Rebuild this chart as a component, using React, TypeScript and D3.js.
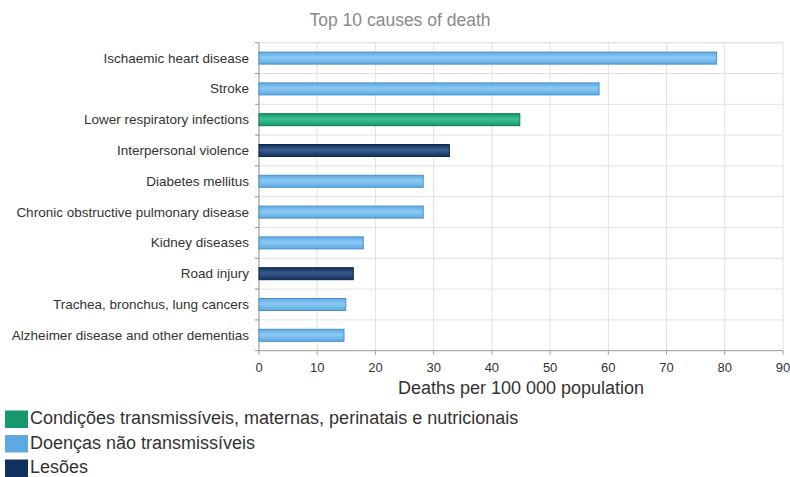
import * as d3 from "d3";

const causes = [
  "Ischaemic heart disease",
  "Stroke",
  "Lower respiratory infections",
  "Interpersonal violence",
  "Diabetes mellitus",
  "Chronic obstructive pulmonary disease",
  "Kidney diseases",
  "Road injury",
  "Trachea, bronchus, lung cancers",
  "Alzheimer disease and other dementias",
];
const deaths = [78.6, 58.4, 44.8, 32.7, 28.2, 28.2, 17.9, 16.2, 14.9, 14.6];
const groups = ["ncd", "ncd", "comm", "inj", "ncd", "ncd", "ncd", "inj", "ncd", "ncd"];
const xTicks = [0, 10, 20, 30, 40, 50, 60, 70, 80, 90];

const legendKeys = ["comm", "ncd", "inj"];
const legendLabels = [
  "Condições transmissíveis, maternas, perinatais e nutricionais",
  "Doenças não transmissíveis",
  "Lesões",
];

const COLORS: Record<string, { fill: string; light: string; stroke: string }> = {
  comm: { fill: "#16986c", light: "#3cc195", stroke: "#0e7a55" },
  ncd: { fill: "#5ea9e3", light: "#8ccaf3", stroke: "#4a8fcb" },
  inj: { fill: "#12315f", light: "#3a5d8d", stroke: "#0d2548" },
};

const W = 790;
const H = 477;
const PLOT = { left: 259, right: 783, top: 42.7, bottom: 350.7 };

export default function App() {
  const x = d3.scaleLinear().domain([0, 90]).range([PLOT.left, PLOT.right]);
  const y = d3.scaleBand().domain(causes).range([PLOT.top, PLOT.bottom]);
  const barH = 12;
  const font = "'Liberation Sans', Arial, sans-serif";

  return (
    <svg
      width={W}
      height={H}
      style={{ position: "absolute", left: 0, top: 0, background: "#fff" }}
      fontFamily={font}
    >
      <defs>
        {Object.entries(COLORS).map(([k, c]) => (
          <linearGradient key={k} id={`g-${k}`} x1="0" y1="0" x2="0" y2="1">
            <stop offset="0%" stopColor={c.fill} />
            <stop offset="45%" stopColor={c.light} />
            <stop offset="100%" stopColor={c.fill} />
          </linearGradient>
        ))}
      </defs>

      <text x={400} y={26} textAnchor="middle" fontSize={17.5} fill="#8a8a8a">
        Top 10 causes of death
      </text>

      {/* grid */}
      {xTicks.map((t) => (
        <line key={t} x1={x(t)} x2={x(t)} y1={PLOT.top} y2={PLOT.bottom} stroke="#e2e2e2" />
      ))}
      {causes.map((c) => (
        <line
          key={c}
          x1={PLOT.left - 4}
          x2={PLOT.right}
          y1={y(c)}
          y2={y(c)}
          stroke="#e2e2e2"
        />
      ))}
      <line x1={PLOT.left} x2={PLOT.right} y1={PLOT.top} y2={PLOT.top} stroke="#e2e2e2" />

      {/* axes */}
      <line x1={PLOT.left} x2={PLOT.left} y1={PLOT.top} y2={PLOT.bottom} stroke="#999" />
      <line x1={PLOT.left} x2={PLOT.right} y1={PLOT.bottom} y2={PLOT.bottom} stroke="#999" />
      {causes.map((c) => (
        <line key={c} x1={PLOT.left - 4} x2={PLOT.left} y1={y(c)} y2={y(c)} stroke="#999" />
      ))}
      <line x1={PLOT.left - 4} x2={PLOT.left} y1={PLOT.bottom} y2={PLOT.bottom} stroke="#999" />
      {xTicks.map((t) => (
        <g key={t}>
          <line x1={x(t)} x2={x(t)} y1={PLOT.bottom} y2={PLOT.bottom + 4} stroke="#999" />
          <text x={x(t)} y={PLOT.bottom + 21} textAnchor="middle" fontSize={13} fill="#333">
            {t}
          </text>
        </g>
      ))}

      {/* bars */}
      {causes.map((c, i) => {
        const cy = (y(c) ?? 0) + y.bandwidth() / 2;
        const col = COLORS[groups[i]];
        return (
          <g key={c}>
            <rect
              x={x(0)}
              y={cy - barH / 2}
              width={x(deaths[i]) - x(0)}
              height={barH}
              fill={`url(#g-${groups[i]})`}
              stroke={col.stroke}
              strokeWidth={1}
            />
            <text
              x={PLOT.left - 10}
              y={cy}
              textAnchor="end"
              dominantBaseline="central"
              fontSize={13.5}
              fill="#333"
            >
              {c}
            </text>
          </g>
        );
      })}

      <text
        x={(PLOT.left + PLOT.right) / 2}
        y={394}
        textAnchor="middle"
        fontSize={18}
        fill="#333"
      >
        Deaths per 100 000 population
      </text>

      {/* legend */}
      {legendKeys.map((k, i) => (
        <g key={k} transform={`translate(5, ${410.5 + i * 24.5})`}>
          <rect width={23} height={17.5} fill={COLORS[k].fill} />
          <text x={25} y={13.5} fontSize={18} fill="#333">
            {legendLabels[i]}
          </text>
        </g>
      ))}
    </svg>
  );
}
